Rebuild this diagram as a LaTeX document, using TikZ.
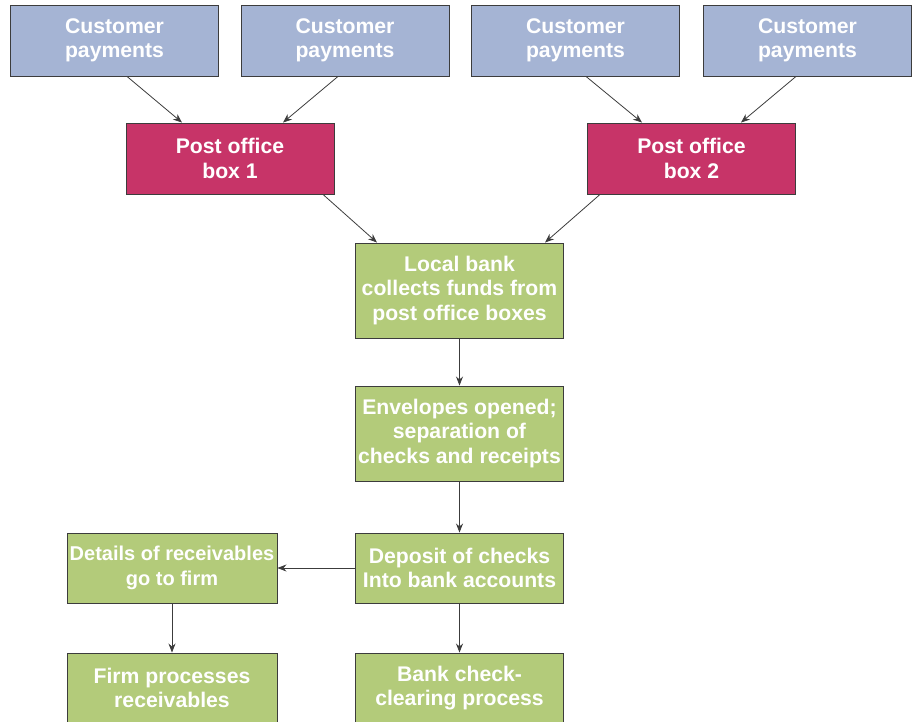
\documentclass[tikz,border=0pt]{standalone}
\usepackage{fontspec}
\setmainfont{Liberation Sans}
\usetikzlibrary{arrows.meta}

\definecolor{paybl}{RGB}{165,180,212}
\definecolor{pomag}{RGB}{199,52,104}
\definecolor{bankgr}{RGB}{179,203,122}
\definecolor{edgegr}{RGB}{60,60,60}

\begin{document}
\begin{tikzpicture}[
  x=1pt, y=-1pt,
  box/.style={draw=edgegr, line width=0.9pt, text=white, align=center, inner sep=1pt,
    font=\bfseries\fontsize{21.2}{24.5}\selectfont, minimum width=208pt},
  paybox/.style={box, fill=paybl, minimum height=71pt},
  pobox/.style={box, fill=pomag, minimum height=71pt},
  stepbox/.style={box, fill=bankgr, minimum height=70pt},
  arr/.style={draw=edgegr, line width=0.8pt, -{Stealth[length=9pt,width=7pt]}},
]
  \useasboundingbox (0,0) rectangle (918,722);

  \node[paybox] (cp1) at (114.5,40.5) {Customer\\payments};
  \node[paybox] (cp2) at (345,40.5)   {Customer\\payments};
  \node[paybox] (cp3) at (575.5,40.5) {Customer\\payments};
  \node[paybox] (cp4) at (807.5,40.5) {Customer\\payments};

  \node[pobox] (po1) at (230,158.5)   {Post office\\box 1};
  \node[pobox] (po2) at (691.5,158.5) {Post office\\box 2};

  \node[stepbox, minimum height=95pt] (bank) at (459.5,290.5) {Local bank\\collects funds from\\post office boxes};
  \node[stepbox, minimum height=95pt] (env)  at (459.5,433.5) {Envelopes opened;\\separation of\\checks and receipts};
  \node[stepbox] (dep)   at (459.5,568) {Deposit of checks\\Into bank accounts};
  \node[stepbox, minimum width=210pt, font=\bfseries\fontsize{20}{24.5}\selectfont] (det) at (172,568) {Details of receivables\\go to firm};
  \node[stepbox, minimum width=210pt] (firm) at (172,688) {Firm processes\\receivables};
  \node[stepbox] (clear) at (459.5,688) {Bank check-\\clearing process};

  \draw[arr] ([xshift=12.5pt]cp1.south) -- ([xshift=-48pt]po1.north);
  \draw[arr] ([xshift=-7pt]cp2.south) -- ([xshift=53pt]po1.north);
  \draw[arr] ([xshift=10.5pt]cp3.south) -- ([xshift=-49.5pt]po2.north);
  \draw[arr] ([xshift=-11.5pt]cp4.south) -- ([xshift=49.5pt]po2.north);

  \draw[arr] ([xshift=93pt]po1.south) -- ([xshift=-82.5pt]bank.north);
  \draw[arr] ([xshift=-91.5pt]po2.south) -- ([xshift=85.5pt]bank.north);

  \draw[arr] (bank) -- (env);
  \draw[arr] (env) -- (dep);
  \draw[arr] (dep) -- (det);
  \draw[arr] (dep) -- (clear);
  \draw[arr] (det) -- (firm);
\end{tikzpicture}
\end{document}
